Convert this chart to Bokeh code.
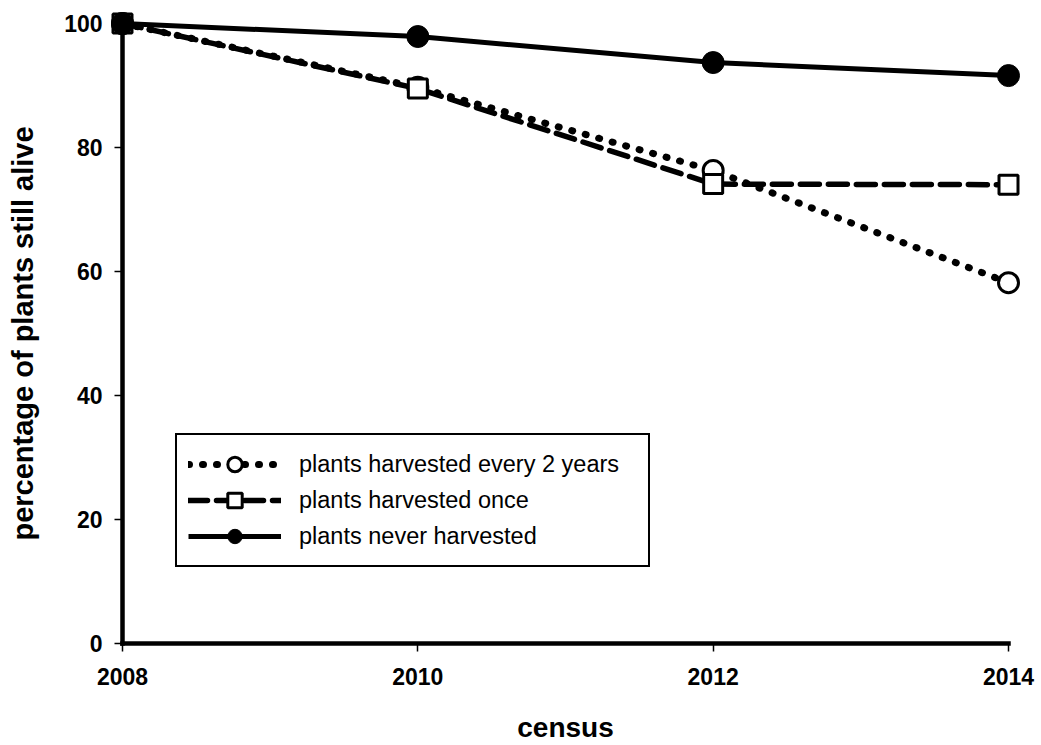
from bokeh.plotting import figure
from bokeh.models import Range1d, FixedTicker, Legend, LegendItem
from bokeh.embed import file_html
from bokeh.resources import INLINE

# ---- data ----
years = [2008, 2010, 2012, 2014]
every_2_years = [100, 89.7, 76.3, 58.2]
harvested_once = [100, 89.5, 74.1, 74.0]
never_harvested = [100, 97.9, 93.7, 91.6]
x_ticks = [2008, 2010, 2012, 2014]
y_ticks = [0, 20, 40, 60, 80, 100]
series_labels = ["plants harvested every 2 years",
                 "plants harvested once",
                 "plants never harvested"]
x_label = "census"
y_label = "percentage of plants still alive"

FONT = "Liberation Sans"

p = figure(width=1041, height=745, output_backend="svg", toolbar_location=None,
           x_range=Range1d(2008, 2014), y_range=Range1d(0, 100),
           min_border_left=122, min_border_right=33, min_border_top=23,
           min_border_bottom=102)
p.outline_line_color = None
p.grid.visible = False
p.background_fill_color = "white"
p.border_fill_color = "white"

# glyphs on the overlay level so that edge markers are not clipped by the frame
r1l = p.line(years, every_2_years, line_color="black", line_width=7,
             line_dash="1 13", line_cap="round", line_join="round",
             level="overlay")
r1m = p.scatter(years, every_2_years, marker="circle", size=20,
                fill_color="white", line_color="black", line_width=3,
                level="overlay")
r2l = p.line(years, harvested_once, line_color="black", line_width=5.5,
             line_dash="19 9", line_cap="round", line_join="round",
             level="overlay")
r2m = p.scatter(years, harvested_once, marker="square", size=19,
                fill_color="white", line_color="black", line_width=3,
                level="overlay")
r3l = p.line(years, never_harvested, line_color="black", line_width=5,
             line_join="round", level="overlay")
r3m = p.scatter(years, never_harvested, marker="circle", size=22,
                fill_color="black", line_color="black", line_width=1,
                level="overlay")

for ax, ticks in ((p.xaxis[0], x_ticks), (p.yaxis[0], y_ticks)):
    ax.ticker = FixedTicker(ticks=ticks)
    ax.axis_line_width = 4.5
    ax.axis_line_color = "black"
    ax.axis_line_cap = "square"
    ax.major_tick_line_width = 1.5
    ax.major_tick_line_color = "black"
    ax.major_tick_out = 8
    ax.major_tick_in = 0
    ax.minor_tick_line_color = None
    ax.major_label_text_font = FONT
    ax.major_label_text_font_style = "bold"
    ax.major_label_text_font_size = "23px"
    ax.major_label_text_color = "black"
    ax.axis_label_text_font = FONT
    ax.axis_label_text_font_style = "bold"
    ax.axis_label_text_color = "black"

p.xaxis[0].axis_label = x_label
p.xaxis[0].axis_label_text_font_size = "28px"
p.xaxis[0].major_label_standoff = 16
p.xaxis[0].axis_label_standoff = 24

p.yaxis[0].axis_label = y_label
p.yaxis[0].axis_label_text_font_size = "29px"
p.yaxis[0].major_label_standoff = 12
p.yaxis[0].axis_label_standoff = 22

legend = Legend(items=[LegendItem(label=series_labels[0], renderers=[r1l, r1m]),
                       LegendItem(label=series_labels[1], renderers=[r2l, r2m]),
                       LegendItem(label=series_labels[2], renderers=[r3l, r3m])],
                location=(53, 76), margin=0, padding=11, spacing=0,
                glyph_width=93, glyph_height=36, label_standoff=18,
                label_height=36, label_width=338, label_text_font=FONT,
                label_text_font_size="23.5px", label_text_color="black",
                border_line_color="black", border_line_width=2,
                border_line_alpha=1,
                background_fill_color="white", background_fill_alpha=1)
p.add_layout(legend)

open("out.html", "w").write(file_html(p, INLINE))
